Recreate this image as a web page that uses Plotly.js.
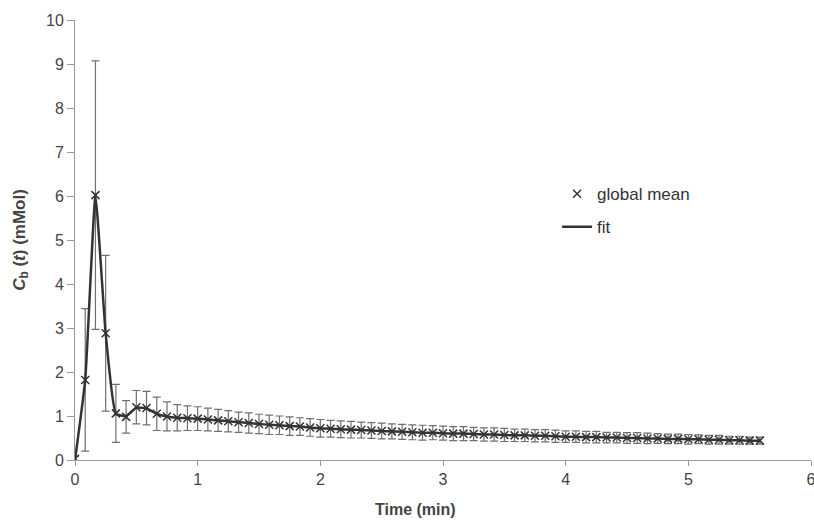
<!DOCTYPE html>
<html>
<head>
<meta charset="utf-8">
<script src="https://cdn.plot.ly/plotly-3.0.1.min.js"></script>
<style>html,body{margin:0;padding:0;background:#fff;}#chart{width:814px;height:526px;}</style>
</head>
<body>
<div id="chart"></div>
<script>
// Time points (min), one every 5 s
const timeMin = [
  0, 0.0833, 0.1667, 0.25, 0.3333, 0.4167, 0.5, 0.5833, 0.6667, 0.75, 0.8333, 0.9167,
  1, 1.0833, 1.1667, 1.25, 1.3333, 1.4167, 1.5, 1.5833, 1.6667, 1.75, 1.8333, 1.9167,
  2, 2.0833, 2.1667, 2.25, 2.3333, 2.4167, 2.5, 2.5833, 2.6667, 2.75, 2.8333, 2.9167,
  3, 3.0833, 3.1667, 3.25, 3.3333, 3.4167, 3.5, 3.5833, 3.6667, 3.75, 3.8333, 3.9167,
  4, 4.0833, 4.1667, 4.25, 4.3333, 4.4167, 4.5, 4.5833, 4.6667, 4.75, 4.8333, 4.9167,
  5, 5.0833, 5.1667, 5.25, 5.3333, 5.4167, 5.5, 5.5833
];
// Global mean concentration (mMol)
const globalMean = [
  0.03, 1.82, 6.02, 2.88, 1.06, 0.98, 1.20, 1.18, 1.05, 0.99, 0.96, 0.95,
  0.94, 0.92, 0.90, 0.88, 0.86, 0.84, 0.82, 0.80, 0.79, 0.77, 0.76, 0.74,
  0.72, 0.71, 0.70, 0.69, 0.68, 0.67, 0.66, 0.65, 0.64, 0.63, 0.62, 0.62,
  0.61, 0.60, 0.60, 0.59, 0.58, 0.58, 0.57, 0.56, 0.56, 0.55, 0.55, 0.54,
  0.53, 0.53, 0.52, 0.52, 0.51, 0.51, 0.50, 0.50, 0.49, 0.49, 0.48, 0.48,
  0.47, 0.47, 0.46, 0.46, 0.45, 0.45, 0.44, 0.44
];
// Standard deviation (error bars)
const stdDev = [
  0.05, 1.62, 3.05, 1.77, 0.66, 0.37, 0.38, 0.38, 0.38, 0.33, 0.30, 0.28,
  0.27, 0.26, 0.25, 0.24, 0.23, 0.23, 0.22, 0.22, 0.21, 0.21, 0.20, 0.20,
  0.20, 0.19, 0.19, 0.19, 0.18, 0.18, 0.18, 0.17, 0.17, 0.17, 0.17, 0.16,
  0.16, 0.16, 0.16, 0.15, 0.15, 0.15, 0.15, 0.14, 0.14, 0.14, 0.14, 0.14,
  0.13, 0.13, 0.13, 0.13, 0.12, 0.12, 0.12, 0.12, 0.12, 0.11, 0.11, 0.11,
  0.11, 0.10, 0.10, 0.10, 0.09, 0.09, 0.08, 0.08
];
// Fitted curve
const fitValues = [
  0.00, 1.82, 6.00, 2.88, 1.05, 1.00, 1.19, 1.17, 1.05, 0.99, 0.96, 0.95,
  0.94, 0.92, 0.90, 0.88, 0.86, 0.84, 0.82, 0.80, 0.79, 0.77, 0.76, 0.74,
  0.72, 0.71, 0.70, 0.69, 0.68, 0.67, 0.66, 0.65, 0.64, 0.63, 0.62, 0.62,
  0.61, 0.60, 0.60, 0.59, 0.58, 0.58, 0.57, 0.56, 0.56, 0.55, 0.55, 0.54,
  0.53, 0.53, 0.52, 0.52, 0.51, 0.51, 0.50, 0.50, 0.49, 0.49, 0.48, 0.48,
  0.47, 0.47, 0.46, 0.46, 0.45, 0.45, 0.44, 0.44
];
const xTicks = [0, 1, 2, 3, 4, 5, 6];
const yTicks = [0, 1, 2, 3, 4, 5, 6, 7, 8, 9, 10];

const traces = [
  {
    x: timeMin, y: globalMean, name: 'global mean', type: 'scatter', mode: 'markers',
    legendgroup: 'a',
    marker: {symbol: 'x-thin', size: 8, color: '#333', line: {color: '#333', width: 1.5}},
    error_y: {type: 'data', array: stdDev, visible: true, color: '#6f6f6f', thickness: 1.2, width: 4}
  },
  {
    x: timeMin, y: fitValues, name: 'fit', type: 'scatter', mode: 'lines',
    legendgroup: 'b',
    line: {color: '#333', width: 2.5, shape: 'spline', smoothing: 0.4}
  }
];

const fontFam = 'Liberation Sans, Arial, sans-serif';
const axisFont = {family: fontFam, size: 16, color: '#444'};
const layout = {
  width: 814, height: 526,
  margin: {l: 75, r: 3, t: 20, b: 66},
  paper_bgcolor: '#fff', plot_bgcolor: '#fff',
  showlegend: true,
  legend: {x: 0.655, y: 0.645, xanchor: 'left', yanchor: 'top', bgcolor: 'rgba(0,0,0,0)',
           font: {family: fontFam, size: 17, color: '#333'},
           traceorder: 'grouped', tracegroupgap: 8, itemwidth: 30},
  xaxis: {
    range: [0, 6], tickvals: xTicks, ticktext: xTicks.map(String),
    showgrid: false, zeroline: false, showline: true, linecolor: '#999', linewidth: 1,
    ticks: 'outside', ticklen: 5, tickcolor: '#999', tickfont: axisFont,
    ticklabeloverflow: 'allow'
  },
  yaxis: {
    range: [0, 10], tickvals: yTicks, ticktext: yTicks.map(String),
    showgrid: false, zeroline: false, showline: true, linecolor: '#999', linewidth: 1,
    ticks: 'outside', ticklen: 7, tickcolor: '#999', tickfont: axisFont,
    title: {text: '<b><i>C</i><sub>b</sub> (<i>t</i>) (mMol)</b>', font: {family: fontFam, size: 17, color: '#444'}, standoff: 16}
  },
  annotations: [
    {text: '<b>Time (min)</b>', xref: 'paper', yref: 'paper', x: 0.462, y: -0.113,
     xanchor: 'center', yanchor: 'middle', showarrow: false,
     font: {family: fontFam, size: 16, color: '#444'}}
  ]
};

Plotly.newPlot('chart', traces, layout, {displayModeBar: false, staticPlot: true});
</script>
</body>
</html>
